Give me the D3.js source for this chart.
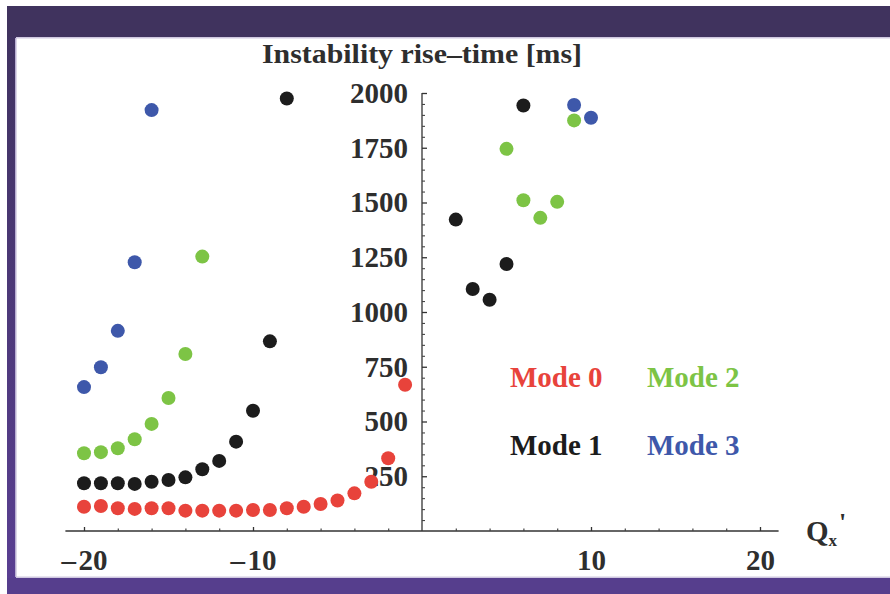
<!DOCTYPE html>
<html>
<head>
<meta charset="utf-8">
<script src="https://cdn.jsdelivr.net/npm/d3@7"></script>
<style>
  body { margin: 0; background: #fff; }
  text { font-family: "Liberation Serif", "Times New Roman", serif; font-weight: bold; }
</style>
</head>
<body>
<div id="chart-area"></div>
<script>
// chromaticity Q' on the x axis, rise-time [ms] on the y axis
var mode0Q = [-20, -19, -18, -17, -16, -15, -14, -13, -12, -11, -10, -9, -8, -7, -6, -5, -4, -3, -2, -1];
var mode0T = [111, 114, 104, 101, 104, 104, 93, 93, 93, 93, 96, 96, 104, 111, 123, 139, 172, 225, 332, 668];

var mode1Q = [-20, -19, -18, -17, -16, -15, -14, -13, -12, -11, -10, -9, -8, 2, 3, 4, 5, 6];
var mode1T = [218, 218, 218, 215, 225, 233, 245, 282, 320, 408, 549, 866, 1975, 1422, 1105, 1056, 1219, 1943];

var mode2Q = [-20, -19, -18, -17, -16, -15, -14, -13, 5, 6, 7, 8, 9];
var mode2T = [355, 360, 378, 419, 489, 607, 808, 1253, 1745, 1510, 1430, 1503, 1875];

var mode3Q = [-20, -19, -18, -17, -16, 9, 10];
var mode3T = [657, 748, 914, 1227, 1922, 1945, 1887];

var modeNames = ["Mode 0", "Mode 1", "Mode 2", "Mode 3"];
var modeColors = ["#e8433b", "#1c1c1c", "#7dc445", "#3e58aa"];

var xMajor = [-20, -10, 10, 20];
var xMinor = [-18, -16, -14, -12, -8, -6, -4, -2, 2, 4, 6, 8, 12, 14, 16, 18];
var yMajor = [250, 500, 750, 1000, 1250, 1500, 1750, 2000];
var yMinor = [50, 100, 150, 200, 300, 350, 400, 450, 550, 600, 650, 700, 800, 850, 900, 950,
  1050, 1100, 1150, 1200, 1300, 1350, 1400, 1450, 1550, 1600, 1650, 1700, 1800, 1850, 1900, 1950];

var width = 890, height = 594;

var svg = d3.select("#chart-area").append("svg")
  .attr("width", width)
  .attr("height", height);

// purple slide frame
var grad = svg.append("defs").append("linearGradient")
  .attr("id", "sideGrad")
  .attr("x1", 0).attr("y1", 0).attr("x2", 0).attr("y2", 1);
grad.append("stop").attr("offset", 0).attr("stop-color", "#3f325e");
grad.append("stop").attr("offset", 1).attr("stop-color", "#5a3f93");

svg.append("rect").attr("x", 7).attr("y", 6).attr("width", 9).attr("height", 588).attr("fill", "url(#sideGrad)");
svg.append("rect").attr("x", 7).attr("y", 6).attr("width", 883).attr("height", 31).attr("fill", "#40335e");
svg.append("rect").attr("x", 16).attr("y", 37).attr("width", 874).attr("height", 1.5).attr("fill", "#cfc8e0");
svg.append("rect").attr("x", 7).attr("y", 578).attr("width", 883).attr("height", 16).attr("fill", "#563e8d");
svg.append("rect").attr("x", 16).attr("y", 576.5).attr("width", 874).attr("height", 1.5).attr("fill", "#cfc8e0");
svg.append("rect").attr("x", 15).attr("y", 38).attr("width", 1.5).attr("height", 539).attr("fill", "#b9afd2");

var x = d3.scaleLinear().domain([-20, 20]).range([84, 760]);
var y = d3.scaleLinear().domain([0, 2000]).range([531, 93]);

var x0 = x(0), y0 = y(0);

var fmt = d => d < 0 ? "\u2013\u200a" + Math.abs(d) : String(d);

// x axis line
svg.append("line")
  .attr("x1", x(-21.1)).attr("x2", x(21.1))
  .attr("y1", y0).attr("y2", y0)
  .attr("stroke", "#333").attr("stroke-width", 1.3);

var xAxis = svg.append("g")
  .attr("transform", "translate(0," + y0 + ")")
  .call(d3.axisBottom(x).tickValues(xMajor).tickFormat(fmt).tickSizeInner(-4).tickSizeOuter(0).tickPadding(18));
xAxis.select(".domain").remove();
xAxis.selectAll("line").attr("stroke", "#333").attr("stroke-width", 1.3);
xAxis.selectAll("text").attr("font-size", 29).attr("fill", "#2e2e2e").attr("font-family", null);

var xAxisMinor = svg.append("g")
  .attr("transform", "translate(0," + y0 + ")")
  .call(d3.axisBottom(x).tickValues(xMinor).tickFormat("").tickSizeInner(-2.5).tickSizeOuter(0));
xAxisMinor.select(".domain").remove();
xAxisMinor.selectAll("line").attr("stroke", "#444").attr("stroke-width", 1.2);

// y axis line
svg.append("line")
  .attr("x1", x0).attr("x2", x0)
  .attr("y1", y0).attr("y2", y(2000))
  .attr("stroke", "#333").attr("stroke-width", 1.3);

var yAxis = svg.append("g")
  .attr("transform", "translate(" + x0 + ",0)")
  .call(d3.axisLeft(y).tickValues(yMajor).tickFormat(d3.format("d")).tickSizeInner(-5).tickSizeOuter(0).tickPadding(14));
yAxis.select(".domain").remove();
yAxis.selectAll("line").attr("stroke", "#333").attr("stroke-width", 1.3);
yAxis.selectAll("text").attr("font-size", 29).attr("fill", "#2e2e2e").attr("font-family", null);

var yAxisMinor = svg.append("g")
  .attr("transform", "translate(" + x0 + ",0)")
  .call(d3.axisLeft(y).tickValues(yMinor).tickFormat("").tickSizeInner(-3).tickSizeOuter(0));
yAxisMinor.select(".domain").remove();
yAxisMinor.selectAll("line").attr("stroke", "#444").attr("stroke-width", 1.1);

// title above the y axis
svg.append("text")
  .attr("x", x0).attr("y", 63)
  .attr("text-anchor", "middle")
  .attr("font-size", 28)
  .attr("fill", "#2e2e2e")
  .attr("textLength", 320)
  .attr("lengthAdjust", "spacingAndGlyphs")
  .text("Instability rise\u2013time [ms]");

// x axis label Qx'
var qLabel = svg.append("text")
  .attr("x", 806).attr("y", 541)
  .attr("font-size", 29)
  .attr("fill", "#2e2e2e");
qLabel.append("tspan").text("Q");
qLabel.append("tspan").attr("font-size", 17).attr("dy", 5).text("x");
qLabel.append("tspan").attr("dy", -15).attr("dx", 2).attr("font-size", 26).text("'");

// points
var series = [
  { q: mode0Q, t: mode0T },
  { q: mode1Q, t: mode1T },
  { q: mode2Q, t: mode2T },
  { q: mode3Q, t: mode3T }
];

series.forEach((s, k) => {
  svg.append("g").selectAll("circle")
    .data(s.q.map((q, i) => [q, s.t[i]]))
    .enter().append("circle")
    .attr("cx", d => x(d[0]))
    .attr("cy", d => y(d[1]))
    .attr("r", 7)
    .attr("fill", modeColors[k]);
});

// legend text
var legendPos = [[510, 387], [510, 455], [647, 387], [647, 455]];
modeNames.forEach((name, k) => {
  svg.append("text")
    .attr("x", legendPos[k][0]).attr("y", legendPos[k][1])
    .attr("font-size", 29)
    .attr("fill", modeColors[k])
    .text(name);
});
</script>
</body>
</html>
